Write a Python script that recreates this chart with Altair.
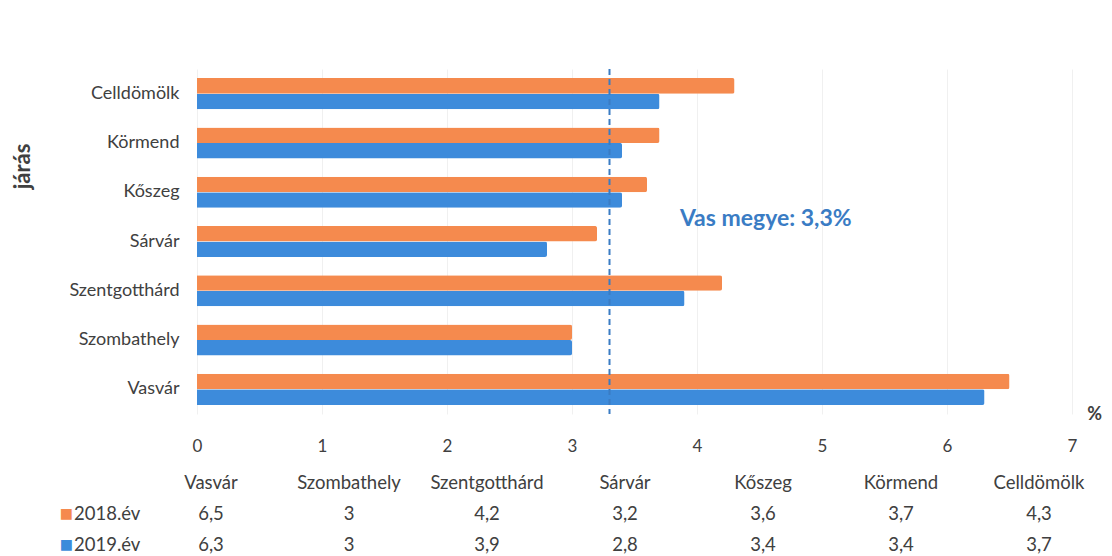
import altair as alt
import pandas as pd

# ---- data ----
table_order = ["Vasvár", "Szombathely", "Szentgotthárd", "Sárvár", "Kőszeg", "Körmend", "Celldömölk"]
years = ["2018.év", "2019.év"]
v2018 = [6.5, 3, 4.2, 3.2, 3.6, 3.7, 4.3]
v2019 = [6.3, 3, 3.9, 2.8, 3.4, 3.4, 3.7]
county_avg = 3.3
county_label = "Vas megye: 3,3%"
x_ticks = [0, 1, 2, 3, 4, 5, 6, 7]

ORANGE = "#F58A4E"
BLUE = "#3D8BDB"
TXT = "#404040"
FONT = "Lato"

bar_order = list(reversed(table_order))

rows = []
for c, a, b in zip(table_order, v2018, v2019):
    rows.append({"jaras": c, "ev": years[0], "v": a})
    rows.append({"jaras": c, "ev": years[1], "v": b})
df = pd.DataFrame(rows)

W = 875
H = 345

xscale = alt.Scale(domain=[0, 7], nice=False, zero=True)
yscale = alt.Scale(domain=bar_order, paddingInner=0.37, paddingOuter=0.185)
cscale = alt.Scale(domain=years, range=[ORANGE, BLUE])

bars = alt.Chart(df).mark_bar(cornerRadiusEnd=2).encode(
    x=alt.X("v:Q", scale=xscale,
            axis=alt.Axis(values=x_ticks, format="d", grid=True, gridColor="#f0f0f0", domain=False,
                          ticks=False, labelFlush=False, labelPadding=24, labelFontSize=17,
                          labelColor=TXT, labelFont=FONT,
                          title="%", titleFont=FONT, titleFontSize=18, titleFontWeight="bold",
                          titleColor=TXT, titleX=W + 22, titleY=0, titleAlign="center",
                          titleBaseline="middle", titleAngle=0)),
    y=alt.Y("jaras:N", scale=yscale,
            axis=alt.Axis(domain=False, ticks=False, labelPadding=18, labelFontSize=18,
                          labelColor=TXT, labelFont=FONT,
                          title="járás", titleFont=FONT, titleFontSize=22, titleFontWeight="bold",
                          titleColor=TXT, titleX=-175, titleY=97, titleAngle=270,
                          titleAlign="center", titleBaseline="middle")),
    yOffset=alt.YOffset("ev:N", sort=years),
    color=alt.Color("ev:N", scale=cscale, legend=None),
)

rule = alt.Chart(pd.DataFrame({"x": [county_avg]})).mark_rule(
    color="#3A7CC4", strokeWidth=2, strokeDash=[6, 4]
).encode(x=alt.X("x:Q", scale=xscale))

label = alt.Chart(pd.DataFrame({"x": [4.55], "y": ["Kőszeg"], "t": [county_label]})).mark_text(
    font=FONT, fontSize=23, fontWeight="bold", color="#3A7CC4", dy=27
).encode(x=alt.X("x:Q", scale=xscale), y=alt.Y("y:N", scale=yscale), text="t:N")

top = alt.layer(bars, rule, label).properties(width=W, height=H)

# ---- data table ----
def fmt(v):
    return f"{v:g}".replace(".", ",")

trows = []
for i, c in enumerate(table_order):
    trows.append({"i": i, "row": "h", "t": c})
    trows.append({"i": i, "row": years[0], "t": fmt(v2018[i])})
    trows.append({"i": i, "row": years[1], "t": fmt(v2019[i])})
tdf = pd.DataFrame(trows)
ldf = pd.DataFrame({"i": [-1, -1], "row": years, "t": years})

tx = alt.Scale(domain=[-0.1014, 6.2391], nice=False, zero=False)
ty = alt.Scale(type="point", domain=["h"] + years, padding=0)

cells = alt.Chart(tdf).mark_text(font=FONT, fontSize=18.5, color=TXT).encode(
    x=alt.X("i:Q", scale=tx, axis=None),
    y=alt.Y("row:N", scale=ty, axis=None),
    text="t:N",
)
rowlab = alt.Chart(ldf).mark_text(font=FONT, fontSize=18.5, color=TXT, align="left", dx=1).encode(
    x=alt.X("i:Q", scale=tx, axis=None),
    y=alt.Y("row:N", scale=ty, axis=None),
    text="t:N",
)
swatch = alt.Chart(ldf).mark_text(font="DejaVu Sans", fontSize=14, align="right", dx=0).encode(
    x=alt.X("i:Q", scale=tx, axis=None),
    y=alt.Y("row:N", scale=ty, axis=None),
    text=alt.value("■"),
    color=alt.Color("row:N", scale=cscale, legend=None),
)
table = alt.layer(cells, rowlab, swatch).properties(width=W, height=62)

chart = alt.vconcat(top, table, spacing=20).properties(
    padding={"left": 3, "top": 60, "right": 0, "bottom": 0}
).configure(background="white").configure_view(stroke=None)

chart.save("out.html", embed_options={"renderer": "svg", "actions": False})
